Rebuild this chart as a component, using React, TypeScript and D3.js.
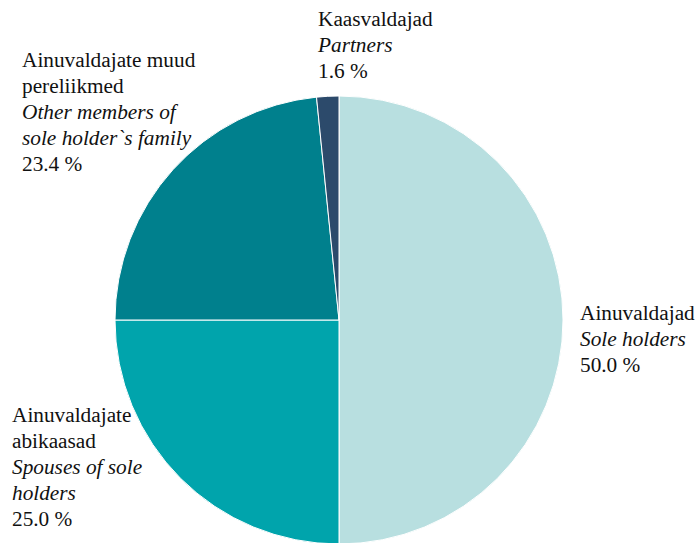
import React from "react";
import * as d3 from "d3";

const categories = ["Ainuvaldajad", "Ainuvaldajate abikaasad", "Ainuvaldajate muud pereliikmed", "Kaasvaldajad"];
const englishNames = ["Sole holders", "Spouses of sole holders", "Other members of sole holder`s family", "Partners"];
const values = [50.0, 25.0, 23.4, 1.6];
const colors = ["#b8dfe0", "#00a4ac", "#00808d", "#2c4a6b"];

// label lines: [text, italic]
const labelLines: [string, boolean][][] = [
  [["Ainuvaldajad", false], ["Sole holders", true], ["50.0 %", false]],
  [["Ainuvaldajate", false], ["abikaasad", false], ["Spouses of sole", true], ["holders", true], ["25.0 %", false]],
  [["Ainuvaldajate muud", false], ["pereliikmed", false], ["Other members of", true], ["sole holder`s family", true], ["23.4 %", false]],
  [["Kaasvaldajad", false], ["Partners", true], ["1.6 %", false]],
];
const labelPos = [
  { x: 580, y: 320 },
  { x: 12, y: 422 },
  { x: 22, y: 67 },
  { x: 318, y: 26 },
];

export default function App() {
  const W = 699, H = 543;
  const cx = 339, cy = 320, r = 224;
  const pie = d3.pie<number>().sort(null).value((d) => d);
  const arcs = pie(values);
  const arc = d3.arc<d3.PieArcDatum<number>>().innerRadius(0).outerRadius(r);
  return (
    <svg width={W} height={H} style={{ position: "absolute", left: 0, top: 0 }}>
      <g transform={`translate(${cx},${cy})`}>
        {arcs.map((a, i) => (
          <path key={i} d={arc(a) || ""} fill={colors[i]} stroke="#ffffff" strokeWidth={1} />
        ))}
      </g>
      {labelLines.map((lines, i) => (
        <text key={i} style={{ fontFamily: "'Liberation Serif', Tinos, 'Times New Roman', Times, serif", fontSize: "21.3px" }} fill="#111">
          {lines.map(([t, it], j) => (
            <tspan key={j} x={labelPos[i].x} y={labelPos[i].y + j * 26} fontStyle={it ? "italic" : "normal"}>
              {t}
            </tspan>
          ))}
        </text>
      ))}
    </svg>
  );
}
